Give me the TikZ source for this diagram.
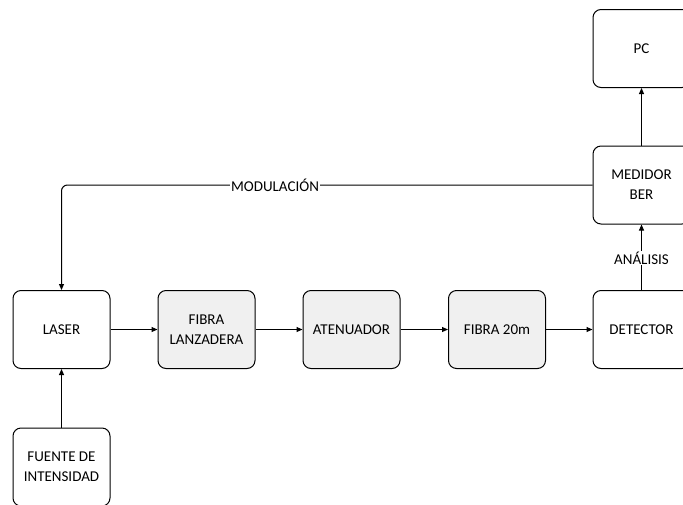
\documentclass[tikz,border=0pt]{standalone}
\usepackage{fontspec}
\setmainfont{Carlito}
\usetikzlibrary{arrows.meta}
\begin{document}
\begin{tikzpicture}[x=1pt,y=-1pt,
  box/.style={draw, line width=1pt, rounded corners=8pt, minimum width=97pt, minimum height=78pt, align=center, inner sep=2pt, font=\fontsize{15}{20}\selectfont},
  gbox/.style={box, fill=black!6},
  conn/.style={line width=1pt, -{Triangle[length=6pt,width=5pt]}},
  lbl/.style={fill=white, inner sep=1pt, font=\fontsize{15}{18}\selectfont}]
\useasboundingbox (0,0) rectangle (683,504);
\clip (0,0) rectangle (683,504);
\node[box] (laser) at (61.5,329.5) {LASER};
\node[gbox] (fl) at (206.5,329.5) {FIBRA\\LANZADERA};
\node[gbox] (at) at (351.5,329.5) {ATENUADOR};
\node[gbox] (f20) at (497,329.5) {FIBRA 20m};
\node[box] (det) at (641.5,329.5) {DETECTOR};
\node[box] (med) at (641.5,185) {MEDIDOR\\BER};
\node[box] (pc) at (641.5,48.5) {PC};
\node[box] (fuente) at (61.5,467) {FUENTE DE\\INTENSIDAD};
\draw[conn] (laser) -- (fl);
\draw[conn] (fl) -- (at);
\draw[conn] (at) -- (f20);
\draw[conn] (f20) -- (det);
\draw[conn] (fuente) -- (laser);
\draw[conn] (med) -- (pc);
\draw[conn] (det) -- (med);
\node[lbl] (ana) at (641.5,258) {ANÁLISIS};
\draw[conn, rounded corners=6pt] (med.west) -- (laser.north |- med.west) -- (laser.north);
\node[lbl] (mod) at (275,185) {MODULACIÓN};
\end{tikzpicture}
\end{document}
